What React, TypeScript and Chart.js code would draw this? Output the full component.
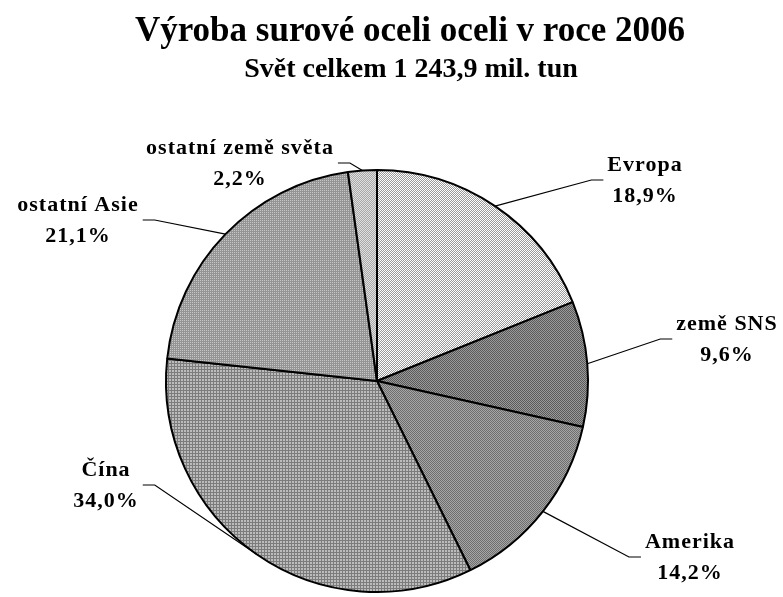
import React, { useEffect, useRef } from 'react';
import { Chart, registerables } from 'chart.js';
Chart.register(...registerables);

const categories = ['Evropa', 'země SNS', 'Amerika', 'Čína', 'ostatní Asie', 'ostatní země světa'];
const shares = [18.9, 9.6, 14.2, 34.0, 21.1, 2.2];
const titleText = 'Výroba surové oceli oceli v roce 2006';
const subtitleText = 'Svět celkem 1 243,9 mil. tun';
// label box centres (annotation placement)
const labelCenters: [number, number][] = [
  [645, 180],
  [727, 339],
  [690, 557],
  [106, 485],
  [78, 220],
  [240, 163],
];

function makePattern(cells: string[][]): CanvasPattern | string {
  const h = cells.length;
  const w = cells[0].length;
  const c = document.createElement('canvas');
  c.width = w;
  c.height = h;
  const cx = c.getContext('2d')!;
  for (let y = 0; y < h; y++) for (let x = 0; x < w; x++) {
    cx.fillStyle = cells[y][x];
    cx.fillRect(x, y, 1, 1);
  }
  const p = cx.createPattern(c, 'repeat');
  return p || cells[0][0];
}

export default function App() {
  const ref = useRef<HTMLCanvasElement>(null);
  useEffect(() => {
    const W = '#ffffff';
    const patterns = [
      makePattern([[W, '#9a9a9a'], ['#9a9a9a', W]]),
      makePattern([['#5a5a5a', '#9a9a9a'], ['#9a9a9a', '#5a5a5a']]),
      makePattern([['#6e6e6e', '#a6a6a6'], ['#a6a6a6', '#6e6e6e']]),
      makePattern([
        ['#7c7c7c', '#7c7c7c', '#7c7c7c'],
        ['#7c7c7c', '#bcbcbc', '#bcbcbc'],
        ['#7c7c7c', '#bcbcbc', '#bcbcbc'],
      ]),
      makePattern([['#c8c8c8', '#949494'], ['#949494', '#949494']]),
      makePattern([['#e0e0e0', '#a8a8a8'], ['#a8a8a8', '#e0e0e0']]),
    ];

    const labelPlugin = {
      id: 'labels',
      afterDraw(chart: any) {
        const ctx = chart.ctx as CanvasRenderingContext2D;
        ctx.save();
        ctx.fillStyle = '#000';
        ctx.textAlign = 'center';
        ctx.textBaseline = 'middle';
        ctx.font = 'bold 35px "Liberation Serif"';
        ctx.fillText(titleText, 410, 32);
        ctx.font = 'bold 28px "Liberation Serif"';
        ctx.fillText(subtitleText, 411, 70);

        const meta = chart.getDatasetMeta(0);
        ctx.font = 'bold 22px "Liberation Serif"';
        (ctx as any).letterSpacing = '1px';
        meta.data.forEach((arc: any, i: number) => {
          const { x, y, startAngle, endAngle, outerRadius } = arc.getProps(['x', 'y', 'startAngle', 'endAngle', 'outerRadius'], true);
          const mid = (startAngle + endAngle) / 2;
          const ex = x + Math.cos(mid) * outerRadius;
          const ey = y + Math.sin(mid) * outerRadius;
          const [lx, ly] = labelCenters[i];
          const line1 = categories[i];
          const line2 = shares[i].toFixed(1).replace('.', ',') + '%';
          const w = Math.max(ctx.measureText(line1).width, ctx.measureText(line2).width);
          const right = lx > ex;
          const ax = right ? lx - w / 2 - 4 : lx + w / 2 + 4;
          ctx.strokeStyle = '#000';
          ctx.lineWidth = 1.2;
          ctx.beginPath();
          ctx.moveTo(ex, ey);
          ctx.lineTo(right ? ax - 12 : ax + 12, ly);
          ctx.lineTo(ax, ly);
          ctx.stroke();
          ctx.fillText(line1, lx, ly - 15);
          ctx.fillText(line2, lx, ly + 16);
        });
        ctx.restore();
      },
    };

    const chart = new Chart(ref.current!, {
      type: 'pie',
      data: {
        labels: categories,
        datasets: [{
          data: shares,
          backgroundColor: patterns as any,
          borderColor: '#000000',
          borderWidth: 2,
        }],
      },
      options: {
        responsive: false,
        animation: false,
        layout: { padding: { top: 169, bottom: 4, left: 165, right: 194 } },
        plugins: { legend: { display: false }, tooltip: { enabled: false }, title: { display: false } },
      },
      plugins: [labelPlugin],
    });
    return () => chart.destroy();
  }, []);
  return (
    <div style={{ position: 'absolute', left: 0, top: 0, width: 783, height: 597, background: '#fff' }}>
      <canvas ref={ref} width={783} height={597} style={{ width: 783, height: 597 }} />
    </div>
  );
}
